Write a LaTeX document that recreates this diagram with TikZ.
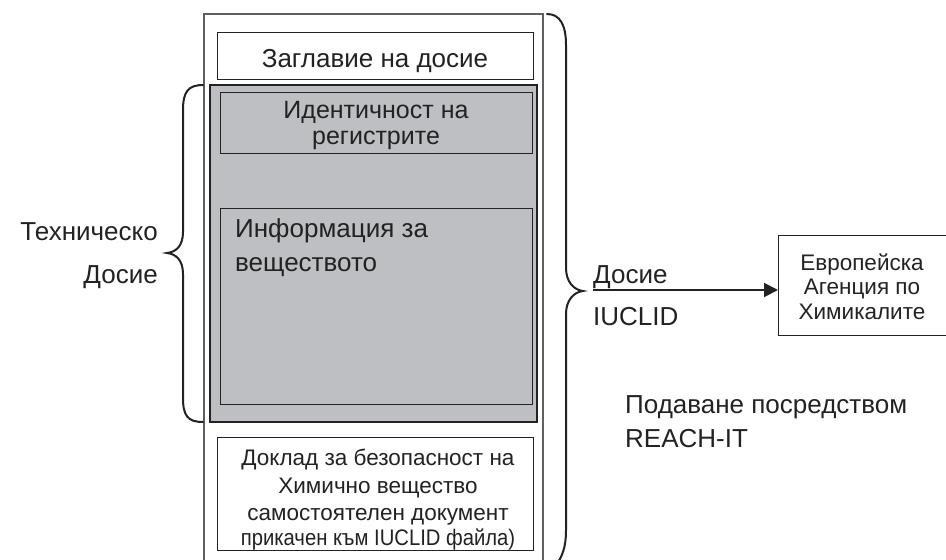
\documentclass[tikz,border=0pt]{standalone}
\usepackage{fontspec}
\setmainfont{Liberation Sans}
\usetikzlibrary{arrows.meta}
\definecolor{panel}{RGB}{190,191,195}
\definecolor{ink}{RGB}{34,34,34}
\definecolor{frame}{RGB}{95,95,95}
\begin{document}
\begin{tikzpicture}[x=1pt,y=-1pt,
  box/.style={draw=ink,line width=1pt},
  big/.style={font=\fontsize{26}{26}\selectfont,text=ink,inner sep=0pt},
  mid/.style={font=\fontsize{22.5}{22.5}\selectfont,text=ink,inner sep=0pt},
  brace/.style={draw=ink,line width=2pt,line cap=round}]
\useasboundingbox (0,0) rectangle (946,560);

% outer dossier frame (open at the bottom edge of the page)
\draw[frame,line width=1.2pt] (204,575) -- (204,14) -- (543,14) -- (543,575);

% boxes inside the dossier
\path[box,fill=white] (217,32) rectangle (533,79);
\node[big,anchor=base] (ttl) at (375,67) {Заглавие на досие};

\path[box,fill=panel,line width=1.3pt] (210,85) rectangle (537,422);
\path[box] (220,92) rectangle (532,153);
\node[big,anchor=base,font=\fontsize{25}{25}\selectfont] (id1) at (376,118) {Идентичност на};
\node[big,anchor=base,font=\fontsize{25}{25}\selectfont] (id2) at (376,144) {регистрите};

\path[box] (220,208) rectangle (532,404);
\node[big,anchor=base west] (inf1) at (235,237) {Информация за};
\node[big,anchor=base west] (inf2) at (235,271) {веществото};

\path[box,fill=white] (217,437) rectangle (533,550);
\node[mid,anchor=base] (r1) at (378,465) {Доклад за безопасност на};
\node[mid,anchor=base] (r2) at (378,493) {Химично вещество};
\node[mid,anchor=base] (r3) at (378,520) {самостоятелен документ};
\node[mid,anchor=base] (r4) at (378,545) {\scalebox{0.9}[1]{прикачен към IUCLID файла)}};

% left brace: technical dossier
\draw[brace] (203,85) .. controls (188,85) and (183,92) .. (183,110) -- (183,232)
  .. controls (183,246) and (176,252) .. (167,253)
  .. controls (176,254) and (183,260) .. (183,274) -- (183,398)
  .. controls (183,416) and (188,422) .. (203,422);
\node[big,anchor=base east] (t1) at (158,240) {Техническо};
\node[big,anchor=base east] (t2) at (158,283) {Досие};

% right brace: whole IUCLID dossier
\draw[brace] (547,14) .. controls (560,14) and (566,25) .. (566,45) -- (566,268)
  .. controls (566,282) and (574,290) .. (583,291)
  .. controls (574,292) and (566,300) .. (566,314) -- (566,530)
  .. controls (566,548) and (562,556) .. (557,564);

% agency box and submission arrow
\node[box,anchor=north west,minimum width=172pt,minimum height=100pt,inner sep=0pt] (echa) at (778,235) {};
\node[mid,anchor=base] (e1) at (862,270) {Европейска};
\node[mid,anchor=base] (e2) at (862,294) {Агенция по};
\node[mid,anchor=base] (e3) at (862,319) {Химикалите};

\coordinate (src) at (593,290);
\draw[ink,line width=2pt,-{Triangle[length=14pt,width=14pt]}] (src) -- (echa.west |- src);
\node[big,anchor=base west] (d1) at (593,283) {Досие};
\node[big,anchor=base west] (d2) at (593,325) {IUCLID};

\node[big,anchor=base west] (s1) at (625,413) {Подаване посредством};
\node[big,anchor=base west] (s2) at (625,447) {REACH-IT};
\end{tikzpicture}
\end{document}
